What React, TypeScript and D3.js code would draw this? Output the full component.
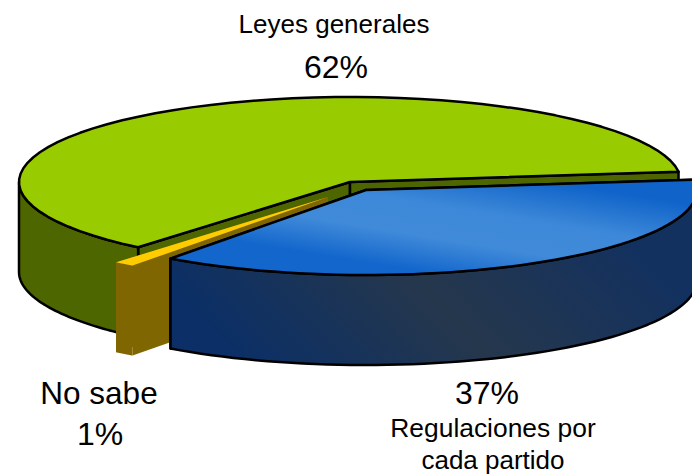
import * as d3 from "d3";

const categories = ["Regulaciones por cada partido", "No sabe", "Leyes generales"];
const shares = [37, 1, 62];

const topColors = ["url(#blueTop)", "#ffcc00", "#99cc00"];
const sideColors = ["url(#blueSide)", "#806600", "#4d6600"];
const strokes = ["#000", "none", "#000"];
// how far each slice is pulled out of the pie
const offsets: [number, number][] = [[16, 8], [-22, 15], [0, 0]];

const width = 692;
const height = 474;
const rx = 331;
const ry = 85;
const depth = 90;
const cx = 350;
const cy = 182;
const rad = Math.PI / 180;

const slices = d3.pie<number>().sort(null)
  .startAngle(83 * rad)
  .endAngle(443 * rad)(shares);

const line = d3.line();

const rim = (a0: number, a1: number, ox: number, oy: number, dy = 0) =>
  d3.range(0, 61).map(i => {
    const a = a0 + (a1 - a0) * i / 60;
    return [cx + ox + rx * Math.sin(a), cy + oy + dy - ry * Math.cos(a)] as [number, number];
  });

const topPath = (s: any, o: [number, number]) =>
  line([[cx + o[0], cy + o[1]], ...rim(s.startAngle, s.endAngle, o[0], o[1])]) + "Z";

const wallPath = (a: number, o: [number, number]) => {
  const p = rim(a, a, o[0], o[1])[0];
  const c: [number, number] = [cx + o[0], cy + o[1]];
  return line([c, p, [p[0], p[1] + depth], [c[0], c[1] + depth]]) + "Z";
};

// outer skin, only the part that faces the viewer
const skinPath = (s: any, o: [number, number]) => {
  const from = Math.max(s.startAngle, 90 * rad);
  const to = Math.min(s.endAngle, 270 * rad);
  return line([...rim(from, to, o[0], o[1]), ...rim(to, from, o[0], o[1], depth)]) + "Z";
};

const labels = [
  { text: "Leyes generales", x: 334, y: 33, size: 26 },
  { text: "62%", x: 336, y: 78, size: 32 },
  { text: "No sabe", x: 99, y: 404, size: 31.5 },
  { text: "1%", x: 100, y: 445, size: 32 },
  { text: "37%", x: 487, y: 404, size: 32 },
  { text: "Regulaciones por", x: 493, y: 437, size: 26.4 },
  { text: "cada partido", x: 493, y: 469, size: 26 },
];

// back to front: green, yellow, blue
const drawOrder = [2, 1, 0];

export default function App() {
  return (
    <svg width={width} height={height} style={{ position: "absolute", left: 0, top: 0, background: "#fff" }}>
      <defs>
        <linearGradient id="blueTop" gradientUnits="userSpaceOnUse" x1="464" y1="145" x2="441" y2="285">
          <stop offset="0.15" stopColor="#0f63c9" />
          <stop offset="0.45" stopColor="#3d88d8" />
          <stop offset="0.68" stopColor="#408ad9" />
          <stop offset="0.93" stopColor="#1266cc" />
        </linearGradient>
        <linearGradient id="blueSide" gradientUnits="userSpaceOnUse" x1="300" y1="420" x2="560" y2="170">
          <stop offset="0" stopColor="#0b2f66" />
          <stop offset="0.5" stopColor="#25374c" />
          <stop offset="1" stopColor="#13315f" />
        </linearGradient>
      </defs>
      {drawOrder.map(i => {
        const s = slices[i];
        const o = offsets[i];
        const st = { stroke: strokes[i], strokeWidth: 2.5, strokeLinejoin: "round" as const };
        return (
          <g key={categories[i]}>
            <path d={wallPath(s.startAngle, o)} fill={sideColors[i]} {...st} />
            <path d={wallPath(s.endAngle, o)} fill={sideColors[i]} {...st} />
            <path d={skinPath(s, o)} fill={sideColors[i]} {...st} />
            <path d={topPath(s, o)} fill={topColors[i]} {...st} />
          </g>
        );
      })}
      {labels.map(l => (
        <text key={l.text} x={l.x} y={l.y} textAnchor="middle" fontSize={l.size}
          fontFamily="'Liberation Sans', Arial, sans-serif" fill="#000">{l.text}</text>
      ))}
    </svg>
  );
}
